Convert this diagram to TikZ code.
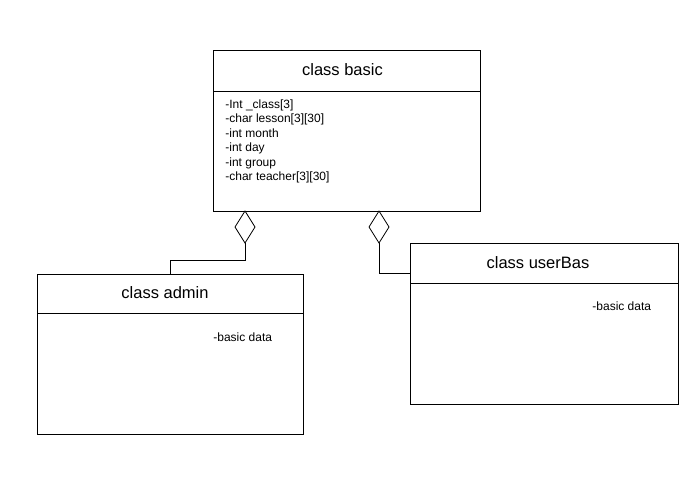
\documentclass[tikz,border=0pt]{standalone}
\usepackage{fontspec}
\setmainfont{Liberation Sans}
\usetikzlibrary{shapes.geometric}
\begin{document}
\begin{tikzpicture}[x=1pt,y=-1pt,line width=0.8pt,
  classbox/.style={draw,rectangle,anchor=north west,inner sep=0pt,outer sep=0pt},
  titletext/.style={font=\fontsize{16.5}{19}\selectfont,inner sep=0pt},
  attrtext/.style={font=\fontsize{12}{14.5}\selectfont,align=left,anchor=north west,inner sep=0pt},
  agg/.style={draw,diamond,fill=white,minimum width=20pt,minimum height=32pt,inner sep=0pt,outer sep=0pt,anchor=north}]
\useasboundingbox (0,0) rectangle (700,477);
% class basic
\node[classbox,minimum width=267pt,minimum height=161pt] (basic) at (213,50) {};
\node[titletext] (basictitle) at (342.5,70) {class basic};
\draw (basic.west |- 0,91) -- (basic.east |- 0,91);
\node[attrtext] (basicattr) at (225,99) {-Int \_class[3]\\-char lesson[3][30]\\-int month\\-int day\\-int group\\-char teacher[3][30]};
% class admin
\node[classbox,minimum width=266pt,minimum height=160pt] (admin) at (37,274) {};
\node[titletext] (admintitle) at (165,293) {class admin};
\draw (admin.west |- 0,313) -- (admin.east |- 0,313);
\node[attrtext] (adminattr) at (213,332) {-basic data};
% class userBas
\node[classbox,minimum width=268pt,minimum height=161pt] (userbas) at (410,243) {};
\node[titletext] (userbastitle) at (538,263) {class userBas};
\draw (userbas.west |- 0,283) -- (userbas.east |- 0,283);
\node[attrtext] (userbasattr) at (592,301) {-basic data};
% aggregation diamonds
\node[agg] (dl) at (245,211) {};
\node[agg] (dr) at (379,211) {};
\draw (dl.south) -- (dl.south |- 0,260) -| (admin.north);
\draw (dr.south) |- (userbas.west |- 0,273);
\end{tikzpicture}
\end{document}
